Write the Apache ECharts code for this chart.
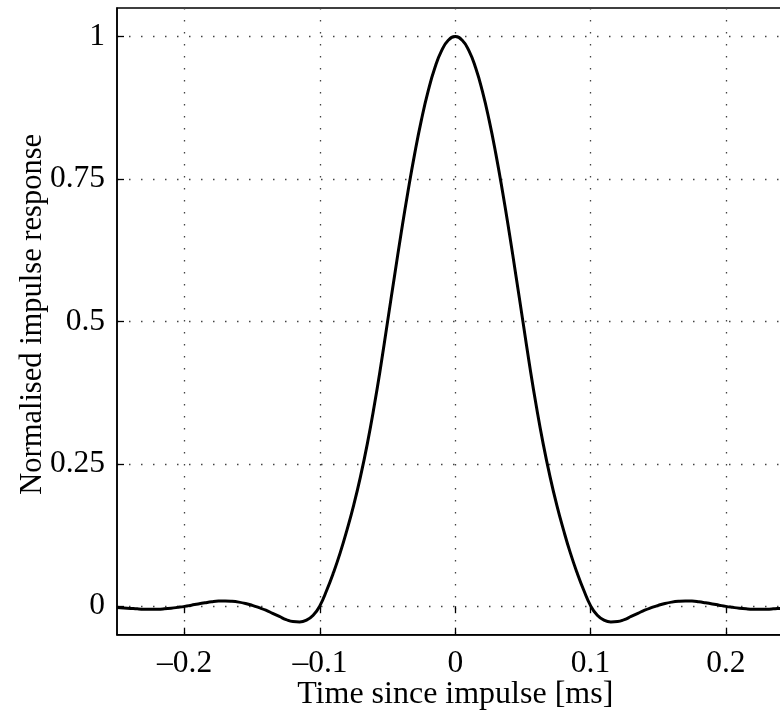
<!DOCTYPE html>
<html>
<head>
<meta charset="utf-8">
<script src="https://cdn.jsdelivr.net/npm/echarts@6/dist/echarts.min.js"></script>
<style>
html,body{margin:0;padding:0;background:#fff;}
#chart{width:780px;height:710px;}
</style>
</head>
<body>
<div id="chart"></div>
<script>
// Time axis samples [ms]
const timeMs = [
 -0.25,-0.245,-0.24,-0.235,-0.23,-0.225,-0.22,-0.215,-0.21,-0.205,
 -0.2,-0.195,-0.19,-0.185,-0.18,-0.175,-0.17,-0.165,-0.16,-0.155,
 -0.15,-0.145,-0.14,-0.135,-0.13,-0.125,-0.12,-0.115,-0.11,-0.105,
 -0.1,-0.095,-0.09,-0.085,-0.08,-0.075,-0.07,-0.065,-0.06,-0.055,
 -0.05,-0.045,-0.04,-0.035,-0.03,-0.025,-0.02,-0.015,-0.01,-0.005,
 0,
 0.005,0.01,0.015,0.02,0.025,0.03,0.035,0.04,0.045,0.05,
 0.055,0.06,0.065,0.07,0.075,0.08,0.085,0.09,0.095,0.1,
 0.105,0.11,0.115,0.12,0.125,0.13,0.135,0.14,0.145,0.15,
 0.155,0.16,0.165,0.17,0.175,0.18,0.185,0.19,0.195,0.2,
 0.205,0.21,0.215,0.22,0.225,0.23,0.235,0.24,0.245,0.25
];
// Normalised impulse response
const response = [
 -0.0022,-0.003,-0.0038,-0.0046,-0.0052,-0.0055,-0.0053,-0.0046,-0.0035,-0.002,
 -0.0003,0.0018,0.004,0.006,0.0078,0.009,0.0093,0.0087,0.0072,0.0048,
 0.0015,-0.0025,-0.007,-0.0125,-0.018,-0.0235,-0.027,-0.0275,-0.0245,-0.016,
 0.001,0.028,0.059,0.094,0.134,0.178,0.228,0.285,0.35,0.422,
 0.5,0.578,0.6545,0.727,0.794,0.8536,0.9045,0.9455,0.9755,0.9938,
 1.0,
 0.9938,0.9755,0.9455,0.9045,0.8536,0.794,0.727,0.6545,0.578,0.5,
 0.422,0.35,0.285,0.228,0.178,0.134,0.094,0.059,0.028,0.001,
 -0.016,-0.0245,-0.0275,-0.027,-0.0235,-0.018,-0.0125,-0.007,-0.0025,0.0015,
 0.0048,0.0072,0.0087,0.0093,0.009,0.0078,0.006,0.004,0.0018,-0.0003,
 -0.002,-0.0035,-0.0046,-0.0053,-0.0055,-0.0052,-0.0046,-0.0038,-0.003,-0.0022
];
const xTicks = [-0.2, -0.1, 0, 0.1, 0.2];
const yTicks = [0, 0.25, 0.5, 0.75, 1];
const xTitle = 'Time since impulse [ms]';
const yTitle = 'Normalised impulse response';

const FONT = 'Liberation Serif';
const chart = echarts.init(document.getElementById('chart'), null, {renderer: 'canvas'});

const gridDots = {show: true, lineStyle: {color: '#444', width: 1.3, type: [1.5, 10.5]}};

const option = {
  animation: false,
  backgroundColor: '#fff',
  grid: {left: 117, top: 8, width: 676.5, height: 626.7, show: true,
         outerBoundsMode: 'none', containLabel: false,
         borderColor: '#000', borderWidth: 1.5, backgroundColor: 'transparent'},
  xAxis: [{
    type: 'value', min: -0.25, max: 0.25, position: 'bottom',
    axisLine: {show: true, onZero: false, lineStyle: {color: '#000', width: 1.5}},
    axisTick: {show: true, inside: true, length: 7, customValues: xTicks, lineStyle: {color: '#000', width: 1.3}},
    axisLabel: {show: true, customValues: xTicks, margin: 13, color: '#000', fontFamily: FONT, fontSize: 31.5,
      formatter: v => String(v).replace('-', '\u2013')},
    splitLine: gridDots,
    name: xTitle, nameLocation: 'middle', nameGap: 44, nameMoveOverlap: false,
    nameTextStyle: {color: '#000', fontFamily: FONT, fontSize: 32}
  }, {
    type: 'value', min: -0.25, max: 0.25, position: 'top',
    axisLine: {show: false},
    axisTick: {show: true, inside: true, length: 7, customValues: xTicks, lineStyle: {color: '#000', width: 1.3}},
    axisLabel: {show: false},
    splitLine: {show: false}
  }],
  yAxis: [{
    type: 'value', min: -0.05, max: 1.05, position: 'left',
    axisLine: {show: true, onZero: false, lineStyle: {color: '#000', width: 1.5}},
    axisTick: {show: true, inside: true, length: 7, customValues: yTicks, lineStyle: {color: '#000', width: 1.3}},
    axisLabel: {show: true, customValues: yTicks, margin: 12, color: '#000', fontFamily: FONT, fontSize: 31.5},
    splitLine: gridDots,
    name: yTitle, nameLocation: 'middle', nameGap: 69, nameRotate: 90, nameMoveOverlap: false,
    nameTextStyle: {color: '#000', fontFamily: FONT, fontSize: 30.5, padding: [0, 0, 0, 14]}
  }],
  series: [{
    type: 'line',
    data: timeMs.map((t, i) => [t, response[i]]),
    showSymbol: false,
    smooth: 0.5,
    clip: true,
    lineStyle: {color: '#000', width: 3},
    silent: true
  }]
};
chart.setOption(option);
</script>
</body>
</html>
